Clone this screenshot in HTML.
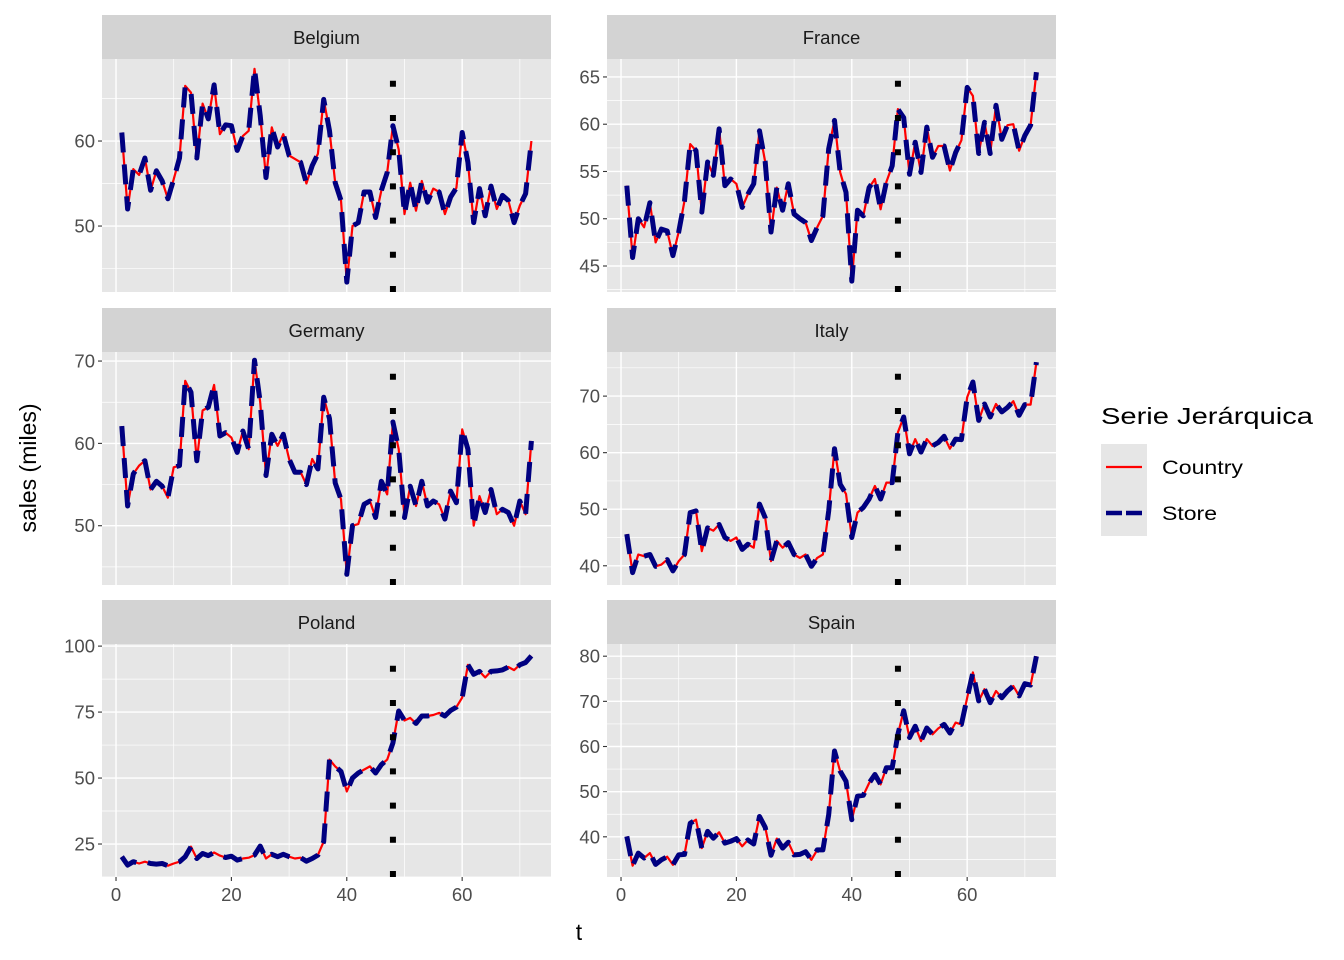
<!DOCTYPE html>
<html><head><meta charset="utf-8"><style>
body{margin:0;background:#fff;}
svg{display:block;font-family:"Liberation Sans",Arial,sans-serif;}
</style></head><body>
<svg id="chart" width="1344" height="960" viewBox="0 0 1344 960" xmlns="http://www.w3.org/2000/svg">
<rect width="1344" height="960" fill="#fff"/>
<g id="panels"></g>
<text x="579" y="940" font-size="23" text-anchor="middle" fill="#000">t</text>
<text transform="translate(36,468) rotate(-90)" font-size="23" text-anchor="middle" fill="#000">sales (miles)</text>
<g>
<text x="1101" y="424" font-size="23" textLength="212" lengthAdjust="spacingAndGlyphs" fill="#000">Serie Jerárquica</text>
<rect x="1101" y="444" width="46" height="46" fill="#e6e6e6"/>
<line x1="1106" y1="467" x2="1142" y2="467" stroke="#ff0000" stroke-width="2.2"/>
<rect x="1101" y="490" width="46" height="46" fill="#e6e6e6"/>
<line x1="1106" y1="513" x2="1142" y2="513" stroke="#000080" stroke-width="4.5" stroke-dasharray="16 4"/>
<text x="1162" y="474" font-size="19" textLength="81" lengthAdjust="spacingAndGlyphs" fill="#000">Country</text>
<text x="1162" y="520" font-size="19" textLength="55" lengthAdjust="spacingAndGlyphs" fill="#000">Store</text>
</g>
</svg>
<script>
const countries = ["Belgium","France","Germany","Italy","Poland","Spain"];
const cutoffT = 48;
const xTicks = [0,20,40,60];
const belgiumCountry = [61,52,56.7,56,58,54.2,56.5,55.3,53.2,55.5,58,66.5,65.7,58,64.4,62.6,66.6,60.8,61.9,61.8,58.9,60.6,61.2,68.5,63,55.7,61.6,59.3,60.8,58.3,57.9,57.5,55,57.1,58.5,64.9,61.2,55.1,53,43.4,50,50.4,54,54,51,54.2,56.3,61.8,59,51.4,55.1,51.8,55.3,52.8,54.4,54,51.4,53.4,54.5,61,57.5,50.4,54.4,51.2,54.7,52,53.6,53,50.4,52.4,53.8,60];
const franceCountry = [53.5,45.9,50,49.1,51.7,47.5,48.9,48.7,46.1,48.6,51.9,57.9,57.2,50.7,56,54.6,59.5,53.5,54.2,53.7,51.2,52.6,53.7,59.3,56,48.6,53.3,50.9,53.7,50.5,50,49.6,47.7,49.1,50.3,57.4,60.4,54.9,52.8,43.4,50.9,50.3,53.3,54.2,51,53.9,55.6,61.6,60.7,54.7,58.1,54.9,59.7,56.5,57.7,57.7,55.1,57,58.3,63.9,63,56.9,60.2,56.9,62,58.4,59.9,60,57.2,58.8,59.9,65.5];
const germanyCountry = [62.1,52.4,56.3,57.3,57.9,54.4,55.4,54.8,53.4,57.1,57.3,67.6,66.2,57.9,64,64.4,67.1,60.9,61.3,60.7,58.9,61.5,59.3,70.1,65,56.1,61.1,59.7,61.1,58.1,56.5,56.5,55,58.1,56.9,65.6,63,55.2,53.2,44.1,50,50.2,52.6,53,51,55.4,53.8,62.6,59.3,51,54.8,52.4,55.4,52.4,53,52.6,50.8,54.2,52.8,61.7,59.3,50,53.6,51.6,54.4,51.4,52,51.6,50,53,51.4,60.3];
const italyCountry = [45.6,38.8,42,41.7,42,39.9,40.2,41.1,39.1,40.8,42,49.4,49.7,42.6,46.7,46.2,47.3,45,44.4,45,42.9,43.8,43.2,50.9,48.5,40.8,44.4,43.2,44.1,42,41.4,42,39.9,41.4,42,49.7,60.7,54.4,52.7,45,49.4,50.3,51.8,54.1,51.8,54.7,54.7,63.6,66.3,59.8,62.4,60.1,62.4,61.2,61.8,62.9,60.7,62.4,62.3,69.8,72.5,65.7,68.6,66.3,68.6,67.2,68,69.1,66.6,68.5,68.5,76];
const polandCountry = [20.2,17,18.3,17.6,18.3,17.6,17.4,17.6,16.8,17.6,18.3,20.2,24,19.5,21.4,20.6,21.8,20.6,19.9,20.4,18.9,19.5,19.8,20.8,24.2,19.5,21.1,20.2,21.1,20.2,19.5,19.8,18.5,19.5,20.8,25.9,57,54.4,52.5,44.9,50,51.9,53.2,54.4,51.9,55.1,57,63.3,75.4,71.8,72.8,70.7,73.5,73.5,73.9,74.7,73.5,75.6,76.9,80.5,92.9,89.3,90.4,88.1,90.4,90.6,91,92.1,90.9,92.9,93.8,96.3];
const spainCountry = [40.1,33.6,36.4,35.3,36.4,33.9,34.9,35.6,33.8,36,36.1,43,43.8,37.5,41.2,39.7,41,38.6,39,39.6,37.9,39.3,38.4,44.5,42.1,35.9,39.6,37.5,38.8,36,36.1,36.7,34.9,37.1,37.1,44.9,59,54.5,52.3,43.8,49,49.2,51.9,53.8,51.6,55.3,55.3,62.7,67.9,62,64.5,61.2,64.1,62.7,64,64.9,63,65.3,64.9,70.8,76.4,70.1,72.7,69.7,72.3,70.8,72.3,73.4,71.2,73.9,73.6,80];
const belgiumStore = belgiumCountry.slice();
const franceStore = franceCountry.slice();
const germanyStore = germanyCountry.slice();
const italyStore = italyCountry.slice();
const polandStore = polandCountry.slice();
const spainStore = spainCountry.slice();
const belgiumTicks = [50,60];
const franceTicks = [45,50,55,60,65];
const germanyTicks = [50,60,70];
const italyTicks = [40,50,60,70];
const polandTicks = [25,50,75,100];
const spainTicks = [40,50,60,70,80];
const belgiumRange = [42.24,69.65];
const franceRange = [42.25,66.9];
const germanyRange = [42.8,71.1];
const italyRange = [36.6,77.8];
const polandRange = [12.5,100.8];
const spainRange = [31.1,82.7];
const xRange = [-2.43,75.4];

const countryData=[belgiumCountry,franceCountry,germanyCountry,italyCountry,polandCountry,spainCountry];
const storeData=[belgiumStore,franceStore,germanyStore,italyStore,polandStore,spainStore];
const tickSets=[belgiumTicks,franceTicks,germanyTicks,italyTicks,polandTicks,spainTicks];
const ranges=[belgiumRange,franceRange,germanyRange,italyRange,polandRange,spainRange];

const NS="http://www.w3.org/2000/svg";
const root=document.getElementById('panels');
function mk(tag,attrs,parent){const e=document.createElementNS(NS,tag);for(const k in attrs)e.setAttribute(k,attrs[k]);(parent||root).appendChild(e);return e;}
const colX=[102,607], rowY=[59,352,644], PW=449, PH=233;
countries.forEach((name,i)=>{
  const px=colX[i%2], py=rowY[Math.floor(i/2)];
  const [lo,hi]=ranges[i];
  const xs=t=>px+(t-xRange[0])/(xRange[1]-xRange[0])*PW;
  const ys=v=>py+PH-(v-lo)/(hi-lo)*PH;
  const g=mk('g',{});
  
  
  const strip=mk('rect',{x:px,y:py-44,width:PW,height:44,fill:'#d3d3d3'},g);
  
  
  const st=mk('text',{x:px+PW/2,y:py-15,'font-size':'18.5','text-anchor':'middle',fill:'#1a1a1a'},g);
  st.textContent=name;
  
  
  const bg=mk('rect',{x:px,y:py,width:PW,height:PH,fill:'#e6e6e6'},g);
  
  
  const ticks=tickSets[i];
  const step=ticks.length>1?ticks[1]-ticks[0]:10;
  for(let v=ticks[0]-step/2; v<=hi; v+=step){ if(v>=lo){const y=ys(v);mk('line',{x1:px,x2:px+PW,y1:y,y2:y,stroke:'#fff','stroke-width':0.7},g);} }
  for(let t=-10;t<=80;t+=20){ if(t>=xRange[0]&&t<=xRange[1]){const x=xs(t);mk('line',{x1:x,x2:x,y1:py,y2:py+PH,stroke:'#fff','stroke-width':0.7},g);} }
  ticks.forEach(v=>{const y=ys(v);mk('line',{x1:px,x2:px+PW,y1:y,y2:y,stroke:'#fff','stroke-width':1.4},g);
    mk('line',{x1:px-4,x2:px,y1:y,y2:y,stroke:'#333','stroke-width':1.1},g);
    const tl=mk('text',{x:px-7,y:y+6.5,'font-size':'18.5','text-anchor':'end',fill:'#4d4d4d'},g);tl.textContent=v;
    
    });
  xTicks.forEach(t=>{const x=xs(t);mk('line',{x1:x,x2:x,y1:py,y2:py+PH,stroke:'#fff','stroke-width':1.4},g);
    if(i>=4){mk('line',{x1:x,x2:x,y1:py+PH,y2:py+PH+4,stroke:'#333','stroke-width':1.1},g);
      const tl=mk('text',{x:x,y:py+PH+24,'font-size':'18.5','text-anchor':'middle',fill:'#4d4d4d'},g);tl.textContent=t;
      
      }});
  const pts=a=>a.map((v,k)=>xs(k+1).toFixed(1)+','+ys(v).toFixed(1)).join(' ');
  const c=mk('polyline',{points:pts(countryData[i]),fill:'none',stroke:'#ff0000','stroke-width':2.2,'stroke-linejoin':'round'},g);
  
  
  const s=mk('polyline',{points:pts(storeData[i]),fill:'none',stroke:'#000080','stroke-width':5,'stroke-dasharray':'20 12','stroke-linejoin':'round'},g);
  
  
  const vx=xs(cutoffT);
  const vl=mk('line',{x1:vx,x2:vx,y1:py+PH,y2:py,stroke:'#000','stroke-width':6,'stroke-dasharray':'6 28.2'},g);
  
  
});
</script>
</body></html>
